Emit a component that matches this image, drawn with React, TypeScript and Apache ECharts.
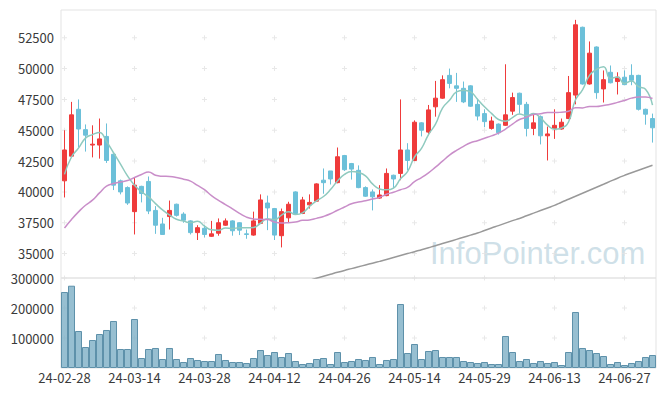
import React, { useEffect, useRef } from 'react';
import * as echarts from 'echarts';

const dates = [
  '24-02-28','24-02-29','24-03-04','24-03-05','24-03-06','24-03-07','24-03-08','24-03-11','24-03-12','24-03-13',
  '24-03-14','24-03-15','24-03-18','24-03-19','24-03-20','24-03-21','24-03-22','24-03-25','24-03-26','24-03-27',
  '24-03-28','24-03-29','24-04-01','24-04-02','24-04-03','24-04-04','24-04-05','24-04-08','24-04-09','24-04-11',
  '24-04-12','24-04-15','24-04-16','24-04-17','24-04-18','24-04-19','24-04-22','24-04-23','24-04-24','24-04-25',
  '24-04-26','24-04-29','24-04-30','24-05-02','24-05-03','24-05-07','24-05-08','24-05-09','24-05-10','24-05-13',
  '24-05-14','24-05-16','24-05-17','24-05-20','24-05-21','24-05-22','24-05-23','24-05-24','24-05-27','24-05-28',
  '24-05-29','24-05-30','24-05-31','24-06-03','24-06-04','24-06-05','24-06-07','24-06-10','24-06-11','24-06-12',
  '24-06-13','24-06-14','24-06-17','24-06-18','24-06-19','24-06-20','24-06-21','24-06-24','24-06-25','24-06-26',
  '24-06-27','24-06-28','24-07-01','24-07-02','24-07-03'
];

const opens = [
  40900,42900,46700,45050,43800,43800,44500,43050,40900,40350,
  38400,40450,40850,38500,37400,38000,39000,38200,37650,36700,
  37050,36400,36650,37300,37650,37500,36600,36500,37450,39100,
  38650,36450,37900,40000,38250,38950,39250,40950,41700,40750,
  42950,42300,41750,40350,40000,39500,39700,41350,41500,43400,
  42550,45600,44850,46900,47600,49450,48600,48400,48600,47100,
  46350,45150,45500,45400,46550,48000,47100,45150,46100,44550,
  45150,45100,45950,47850,53350,48750,51750,48350,49700,48950,
  49300,49450,49450,46700,45950
];

const closes = [
  43400,46250,45100,44600,43870,44300,42550,40550,40000,39100,
  40550,39870,38450,37300,36550,38500,38100,37700,36700,37100,
  36550,36600,37500,37650,36850,36900,36550,37650,39350,38700,
  36500,38400,39000,38250,39350,39150,40650,40750,41050,42850,
  41800,41850,40350,39650,39600,39750,41500,41050,43400,42550,
  45650,45000,46650,47600,49100,48800,48400,47300,46950,46150,
  45700,45750,44800,46250,47650,47100,45150,45600,44550,44700,
  45400,45650,48050,53550,48750,51250,48050,49100,48850,49300,
  48700,49050,46700,46300,45200
];

const highs = [
  45000,47300,47500,45470,45400,45950,45550,43100,41000,40450,
  41150,40500,41250,38850,37900,39300,39050,38350,37700,37300,
  37300,37650,37850,37850,37700,37550,36950,38400,39800,39700,
  38700,38650,39200,40050,39600,39800,40700,41900,41700,43600,
  43000,42350,42150,40450,40200,40550,41900,41400,47500,43950,
  45800,45650,47050,49000,49450,50000,49650,48950,48650,47550,
  46700,46100,45550,50350,48050,48050,47300,46250,46200,45300,
  46700,45950,49400,53950,53400,52200,51800,49850,50250,49700,
  49850,50350,49500,46750,46350
];

const lows = [
  39550,42900,43600,43270,42800,42700,42350,40150,39800,38950,
  36550,39150,38200,36600,36550,36950,38000,37500,36550,36100,
  36300,36350,36450,37250,36450,36500,36200,36450,37400,36900,
  36100,35500,37550,38200,38200,38650,39200,39850,40600,40700,
  41700,41000,40300,39600,38500,39450,39650,40300,40950,41750,
  42500,44500,44600,46100,47550,48400,47300,47200,46900,45800,
  45250,45050,44650,45350,46250,46350,44500,44600,43850,42550,
  44300,45050,45900,47100,48700,48700,47550,47250,48800,47900,
  48650,48650,46600,45450,44000
];

const volumes = [
  253300,274300,123300,70000,93300,113300,126700,156700,63300,63300,
  163300,33300,63300,66700,30000,66700,30000,20000,33300,26700,
  23300,23300,46700,26700,20000,20000,16700,33300,60000,43300,
  53300,36700,50000,23300,13300,16700,30000,33300,13300,53300,
  20000,23300,30000,26700,36700,13300,26700,30000,213300,50000,
  80000,30000,56700,60000,36700,36700,36700,23300,20000,16700,
  20000,13300,13300,106700,53300,23300,30000,16700,23300,16700,
  20000,10000,53300,186700,66700,60000,50000,40000,13300,20000,
  10000,16700,23300,36700,43300
];

const ma5 = [
  41420,42830,43550,44360,44644,44824,44084,43174,42254,41300,
  40550,40014,39594,39054,38544,38134,37780,37630,37510,37620,
  37230,36930,36890,37080,37030,37100,37090,37120,37460,37830,
  37750,38120,38390,38170,38300,38830,39280,39630,40190,40890,
  41420,41660,41580,41300,40650,40240,40170,40310,41060,41650,
  42830,43530,44650,45490,46800,47430,48110,48240,48110,47520,
  46900,46370,45870,45730,46030,46310,46190,46350,46010,45420,
  45080,45180,45670,47470,48280,49450,49930,50140,49200,49310,
  48790,49000,48530,48330,47040
];

const ma20 = [
  37070,37760,38380,38920,39330,39920,40460,40680,40810,40920,
  41170,41410,41620,41350,41270,41250,41170,41030,40870,40527,
  40185,39702,39322,38975,38624,38254,37954,37809,37776,37756,
  37554,37480,37508,37555,37695,37728,37855,38008,38225,38513,
  38775,39038,39180,39280,39418,39560,39808,39978,40180,40373,
  40830,41160,41543,42010,42498,42980,43368,43695,43990,44155,
  44350,44545,44768,45098,45500,45868,46050,46278,46335,46443,
  46430,46463,46533,46830,46813,46935,46918,47008,47103,47260,
  47410,47603,47698,47700,47578
];

const ma120 = [
  null,null,null,null,null,null,null,null,null,null,
  null,null,null,null,null,null,null,null,null,null,
  null,null,null,null,null,null,null,null,null,null,
  32020,32180,32340,32500,32660,32830,32995,33157,33320,33482,
  33636,33782,33928,34075,34220,34367,34520,34683,34837,35000,
  35154,35316,35478,35640,35812,35982,36153,36323,36494,36664,
  36867,37070,37265,37467,37670,37849,38067,38278,38490,38700,
  38911,39163,39407,39651,39894,40138,40381,40625,40870,41112,
  41340,41558,41761,41964,42167
];

const priceTicks = [35000, 37500, 40000, 42500, 45000, 47500, 50000, 52500];
const volumeTicks = [100000, 200000, 300000];
const labelIndexes = [0, 10, 20, 30, 40, 50, 60, 70, 80];

const FONT = '"Noto Sans CJK KR", "Noto Sans", sans-serif';
const UP = '#ef3b3b';
const DOWN = '#6cc0d9';
const PLUS = 'path://M2,0H3V2H5V3H3V5H2V3H0V2H2Z';

export default function App() {
  const ref = useRef<HTMLDivElement>(null);

  useEffect(() => {
    document.body.style.margin = '0';
    const chart = echarts.init(ref.current!, null, { renderer: 'svg' });

    const candleData = opens.map((o, i) => [o, closes[i], lows[i], highs[i]]);
    const priceCross: number[][] = [];
    labelIndexes.forEach((ix) => priceTicks.forEach((t) => priceCross.push([ix, t])));
    const volCross: number[][] = [];
    labelIndexes.forEach((ix) => volumeTicks.forEach((t) => volCross.push([ix, t])));

    const labelStyle = { color: '#3a3a3a', fontSize: 13, fontFamily: FONT };
    const plain = (v: number) => String(v);

    chart.setOption({
      animation: false,
      backgroundColor: '#ffffff',
      grid: [
        { left: 61, right: 9, top: 10, height: 268, show: true, borderColor: '#e3e3e3', borderWidth: 1 },
        { left: 61, right: 9, top: 278, height: 90, show: true, borderColor: '#e3e3e3', borderWidth: 1 },
      ],
      graphic: [
        {
          type: 'text',
          left: 430,
          top: 238,
          z: 0,
          silent: true,
          style: {
            text: 'InfoPointer.com',
            font: '31px "Liberation Sans", Arial, sans-serif',
            fill: 'rgba(165,198,212,0.55)',
          },
        },
      ],
      xAxis: [
        {
          type: 'category', gridIndex: 0, data: dates, boundaryGap: true,
          axisLabel: { show: false }, axisTick: { show: false }, axisLine: { show: false }, splitLine: { show: false },
        },
        {
          type: 'category', gridIndex: 1, data: dates, boundaryGap: true,
          axisLabel: { ...labelStyle, interval: 9, margin: 3 },
          axisTick: { show: false }, axisLine: { show: false }, splitLine: { show: false },
        },
      ],
      yAxis: [
        {
          type: 'value', gridIndex: 0, min: 33020, max: 54750, scale: true,
          axisLabel: { ...labelStyle, margin: 7, customValues: priceTicks, formatter: plain },
          axisTick: { show: false }, axisLine: { show: false }, splitLine: { show: false },
        },
        {
          type: 'value', gridIndex: 1, min: 0, max: 300000, interval: 100000,
          axisLabel: { ...labelStyle, margin: 7, showMinLabel: false, formatter: plain },
          axisTick: { show: false }, axisLine: { show: false }, splitLine: { show: false },
        },
      ],
      series: [
        {
          type: 'scatter', xAxisIndex: 0, yAxisIndex: 0, data: priceCross, symbol: PLUS, symbolSize: 5,
          itemStyle: { color: '#e2e2e2' }, silent: true, z: 1,
        },
        {
          type: 'scatter', xAxisIndex: 1, yAxisIndex: 1, data: volCross, symbol: PLUS, symbolSize: 5,
          itemStyle: { color: '#e2e2e2' }, silent: true, z: 1,
        },
        {
          type: 'candlestick', xAxisIndex: 0, yAxisIndex: 0, data: candleData, barWidth: 5, z: 3,
          itemStyle: { color: UP, color0: DOWN, borderColor: UP, borderColor0: DOWN, borderWidth: 1 },
        },
        {
          type: 'line', xAxisIndex: 0, yAxisIndex: 0, data: ma5, smooth: true, showSymbol: false, z: 4,
          lineStyle: { color: '#8fcabf', width: 1.5 },
        },
        {
          type: 'line', xAxisIndex: 0, yAxisIndex: 0, data: ma20, smooth: true, showSymbol: false, z: 4,
          lineStyle: { color: '#c98ec9', width: 1.5 },
        },
        {
          type: 'line', xAxisIndex: 0, yAxisIndex: 0, data: ma120, smooth: true, showSymbol: false, z: 4,
          lineStyle: { color: '#999999', width: 1.5 }, connectNulls: false,
        },
        {
          type: 'bar', xAxisIndex: 1, yAxisIndex: 1, data: volumes, barCategoryGap: '0%', z: 3,
          itemStyle: { color: 'rgba(125,175,198,0.8)', borderColor: '#5e91aa', borderWidth: 1 },
        },
      ],
    });

    return () => chart.dispose();
  }, []);

  return <div ref={ref} style={{ width: 665, height: 396 }} />;
}
